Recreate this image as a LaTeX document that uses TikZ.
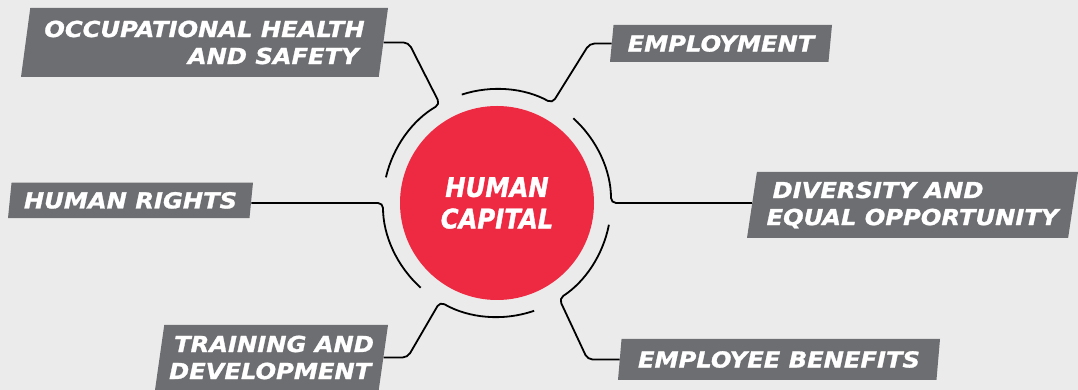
\documentclass[tikz,border=0pt]{standalone}
\usepackage{fontspec}
\usetikzlibrary{shapes.geometric}
\newfontfamily\lblfont{DejaVu Sans Bold Oblique}[FakeStretch=1.1, FakeBold=1.2]
\newfontfamily\ctrfont{DejaVu Sans Bold Oblique}[FakeStretch=0.9, FakeBold=1.2]
\definecolor{bgcol}{HTML}{EBEBEB}
\definecolor{lblgray}{HTML}{6D6E71}
\definecolor{hcred}{HTML}{EE2942}
\tikzset{
  lbl/.style={trapezium, trapezium left angle=78, trapezium right angle=102,
    trapezium stretches body, fill=lblgray, text=white, inner sep=0pt,
    font=\lblfont\fontsize{22}{27}\selectfont},
  conn/.style={draw=black, line width=1.8pt, rounded corners=5pt},
  hub/.style={circle, fill=hcred, text=white, minimum size=194pt, inner sep=0pt,
    align=center, font=\ctrfont\fontsize{27}{31.5}\selectfont}
}
\begin{document}
\begin{tikzpicture}[x=1pt,y=1pt]
\useasboundingbox (0,0) rectangle (1078,390);
\fill[bgcol] (0,0) rectangle (1078,390);

\node[hub] (hc) at (497,187) {HUMAN\\CAPITAL};

\node[lbl, minimum width=367pt, minimum height=69pt, align=right] (ohs) at (204.5,347.5)
  {OCCUPATIONAL HEALTH\\AND SAFETY\hspace*{6pt}};
\node[lbl, minimum width=222pt, minimum height=37pt] (emp) at (721,346.5) {EMPLOYMENT};
\node[lbl, minimum width=245pt, minimum height=35.5pt] (hr) at (130.5,189.6) {HUMAN RIGHTS};
\node[lbl, minimum width=331pt, minimum height=66pt, align=left] (div) at (912.5,185)
  {\hspace*{6pt}DIVERSITY AND\\EQUAL OPPORTUNITY};
\node[lbl, minimum width=233pt, minimum height=65pt, align=left] (trn) at (271.5,32.5)
  {\hspace*{5pt}TRAINING AND\\DEVELOPMENT};
\node[lbl, minimum width=322pt, minimum height=41pt] (ben) at (779,30.5) {EMPLOYEE BENEFITS};

\draw[conn] (ohs.east) -- ++(25,0) -- ([shift={(120:114pt)}]hc.center)
  arc[start angle=120, end angle=167, radius=114pt];
\draw[conn] (emp.west) -- ++(-22,0) -- ([shift={(61:114pt)}]hc.center)
  arc[start angle=61, end angle=108, radius=114pt];
\draw[conn] (div.west |- hc.center) -- ([shift={(0:114pt)}]hc.center)
  arc[start angle=0, end angle=48, radius=114pt];
\draw[conn] (ben.west) -- ++(-32,0) -- ([shift={(-57:114pt)}]hc.center)
  arc[start angle=-57, end angle=-11, radius=114pt];
\draw[conn] (trn.east) -- ++(24,0) -- ([shift={(-120:114pt)}]hc.center)
  arc[start angle=-120, end angle=-71, radius=114pt];
\draw[conn] (hr.east |- hc.center) -- ([shift={(180:114pt)}]hc.center)
  arc[start angle=180, end angle=228, radius=114pt];
\end{tikzpicture}
\end{document}
